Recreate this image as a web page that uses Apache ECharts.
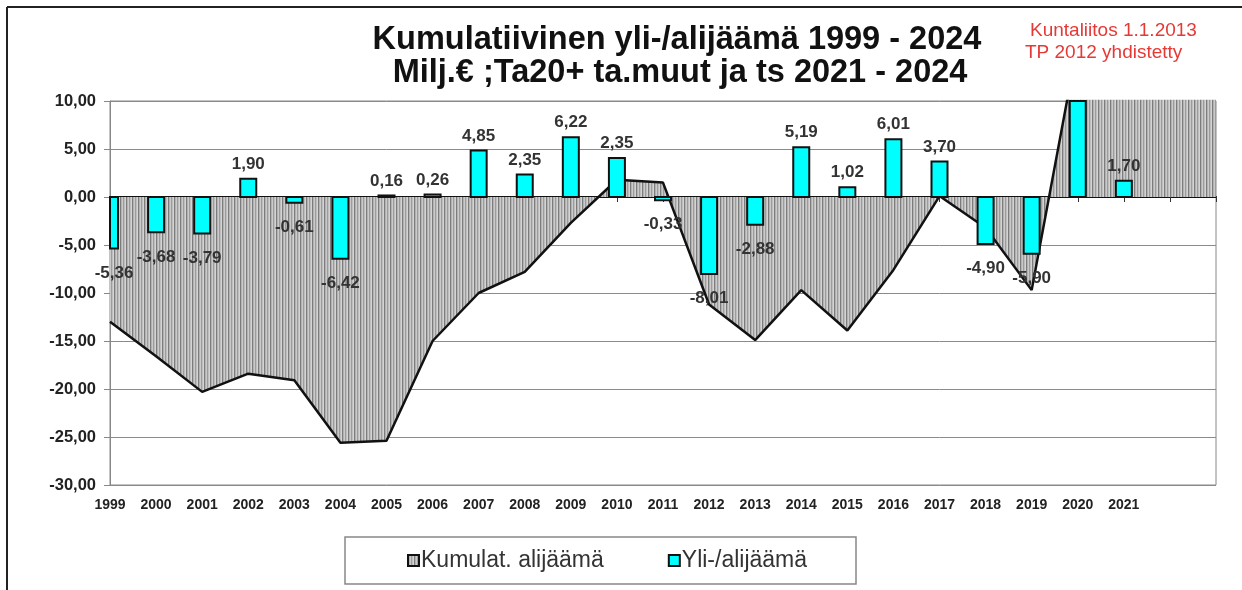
<!DOCTYPE html>
<html>
<head>
<meta charset="utf-8">
<script src="https://cdn.jsdelivr.net/npm/echarts@6/dist/echarts.min.js"></script>
<style>
  html, body { margin: 0; padding: 0; background: #fff; }
  #chart { width: 1242px; height: 590px; }
</style>
</head>
<body>
<div id="chart"></div>
<script>
const FONT = '"Liberation Sans", Arial, sans-serif';

// categories (2022, 2023 are empty slots on the axis)
const years = ['1999', '2000', '2001', '2002', '2003', '2004', '2005', '2006', '2007', '2008',
  '2009', '2010', '2011', '2012', '2013', '2014', '2015', '2016', '2017', '2018',
  '2019', '2020', '2021', '2022', '2023'];
const tickLabels = ['1999', '2000', '2001', '2002', '2003', '2004', '2005', '2006', '2007', '2008',
  '2009', '2010', '2011', '2012', '2013', '2014', '2015', '2016', '2017', '2018',
  '2019', '2020', '2021', '', ''];

// Yli-/alijäämä (bars)
const surplus = [-5.36, -3.68, -3.79, 1.90, -0.61, -6.42, 0.16, 0.26, 4.85, 2.35,
  6.22, 4.05, -0.33, -8.01, -2.88, 5.19, 1.02, 6.01, 3.70, -4.90,
  -5.90, 25.7, 1.70, null, null];
const surplusLabels = ['-5,36', '-3,68', '-3,79', '1,90', '-0,61', '-6,42', '0,16', '0,26', '4,85', '2,35',
  '6,22', '2,35', '-0,33', '-8,01', '-2,88', '5,19', '1,02', '6,01', '3,70', '-4,90',
  '-5,90', '', '1,70', '', ''];

// Kumulat. alijäämä (hatched area)
const cumulative = [-13.0, -16.6, -20.3, -18.4, -19.1, -25.6, -25.4, -15.0, -10.0, -7.8,
  -2.7, 1.8, 1.5, -11.2, -14.9, -9.7, -13.9, -7.6, 0.1, -3.2,
  -9.7, 16.0, 17.7, 17.7, 17.7];

function hatch() {
  const c = document.createElement('canvas');
  c.width = 6; c.height = 6;
  const ctx = c.getContext('2d');
  ['#7c7c7c', '#b2b2b2', '#cacaca', '#9c9c9c', '#bebebe', '#d4d4d4'].forEach((col, i) => {
    ctx.fillStyle = col;
    ctx.fillRect(i, 0, 1, 6);
  });
  return { image: c, repeat: 'repeat' };
}

const chart = echarts.init(document.getElementById('chart'));
const pattern = hatch();

// bars clipped to the plot area (the 1999 bar sits on the left edge)
function renderBar(params, api) {
  const v = api.value(1);
  if (v == null || isNaN(v)) return null;
  const end = api.coord([api.value(0), v]);
  const base = api.coord([api.value(0), 0]);
  const w = 16;
  const cs = params.coordSys;
  const rect = echarts.graphic.clipRectByRect(
    { x: end[0] - w / 2, y: Math.min(end[1], base[1]), width: w, height: Math.abs(base[1] - end[1]) },
    { x: cs.x, y: cs.y, width: cs.width, height: cs.height }
  );
  if (!rect) return null;
  return {
    type: 'rect',
    shape: rect,
    style: { fill: '#00ffff', stroke: '#111', lineWidth: 2 },
    textContent: {
      style: {
        text: surplusLabels[params.dataIndex],
        font: 'bold 17px ' + FONT,
        fill: '#333',
      },
    },
    textConfig: { position: v < 0 ? 'bottom' : 'top', distance: v < 0 ? 15 : 5 },
  };
}

chart.setOption({
  animation: false,
  backgroundColor: '#fff',
  textStyle: { fontFamily: FONT },
  grid: { left: 110, right: 26, top: 101, bottom: 105, show: true, borderColor: '#888', borderWidth: 1 },
  legend: {
    left: 407,
    top: 549,
    padding: 0,
    itemGap: 64,
    itemWidth: 11,
    itemHeight: 11,
    icon: 'rect',
    textStyle: { fontSize: 23, color: '#333', fontFamily: FONT, padding: [0, 0, 0, -3] },
    data: [
      { name: 'Kumulat. alijäämä', itemStyle: { color: pattern, borderColor: '#111', borderWidth: 2 } },
      { name: 'Yli-/alijäämä', itemStyle: { color: '#00ffff', borderColor: '#111', borderWidth: 2 } },
    ],
  },
  graphic: [
    { type: 'line', shape: { x1: 7, y1: 7, x2: 1242, y2: 7 }, style: { stroke: '#222', lineWidth: 2 } },
    { type: 'line', shape: { x1: 7, y1: 7, x2: 7, y2: 590 }, style: { stroke: '#222', lineWidth: 2 } },
    { type: 'rect', shape: { x: 345, y: 537, width: 511, height: 47 }, style: { fill: '#fff', stroke: '#888', lineWidth: 1.5 }, z: -1 },
    {
      type: 'text', x: 677, y: 40,
      style: { text: 'Kumulatiivinen yli-/alijäämä 1999 - 2024', font: 'bold 32.5px ' + FONT, fill: '#111', align: 'center', verticalAlign: 'middle' },
    },
    {
      type: 'text', x: 680, y: 73,
      style: { text: 'Milj.€ ;Ta20+ ta.muut ja ts 2021 - 2024', font: 'bold 32.5px ' + FONT, fill: '#111', align: 'center', verticalAlign: 'middle' },
    },
    {
      type: 'text', x: 1030, y: 31,
      style: { text: 'Kuntaliitos 1.1.2013', font: '19px ' + FONT, fill: '#e53935', align: 'left', verticalAlign: 'middle' },
    },
    {
      type: 'text', x: 1025, y: 53,
      style: { text: 'TP 2012 yhdistetty', font: '19px ' + FONT, fill: '#e53935', align: 'left', verticalAlign: 'middle' },
    },
  ],
  xAxis: [
    {
      type: 'category',
      data: years,
      boundaryGap: false,
      axisLine: { show: false, onZero: false },
      axisTick: { show: false },
      splitLine: { show: false },
      axisLabel: {
        interval: 0,
        formatter: (v, i) => tickLabels[i],
        fontWeight: 'bold',
        fontSize: 14,
        color: '#222',
        margin: 13,
      },
    },
    {
      type: 'category',
      data: years,
      boundaryGap: false,
      position: 'bottom',
      axisLine: { onZero: true, lineStyle: { color: '#111', width: 2 } },
      axisTick: { show: true, interval: 0, length: 5, lineStyle: { color: '#333' } },
      axisLabel: { show: false },
      splitLine: { show: false },
    },
  ],
  yAxis: {
    type: 'value',
    min: -30,
    max: 10,
    interval: 5,
    axisLine: { show: true, lineStyle: { color: '#888' } },
    axisTick: { show: true, length: 6, lineStyle: { color: '#888' } },
    axisLabel: {
      formatter: v => v.toFixed(2).replace('.', ','),
      fontWeight: 'bold',
      fontSize: 16.5,
      color: '#222',
      margin: 14,
    },
    splitLine: { lineStyle: { color: '#8a8a8a' } },
  },
  series: [
    {
      name: 'Kumulat. alijäämä',
      type: 'line',
      data: cumulative,
      symbol: 'none',
      clip: true,
      lineStyle: { color: '#111', width: 2.5 },
      itemStyle: { color: '#999' },
      areaStyle: { color: pattern, opacity: 1 },
      z: 1,
    },
    {
      name: 'Yli-/alijäämä',
      type: 'custom',
      renderItem: renderBar,
      data: surplus.map((v, i) => [i, v == null ? NaN : v]),
      itemStyle: { color: '#00ffff' },
      z: 3,
    },
  ],
});
</script>
</body>
</html>
